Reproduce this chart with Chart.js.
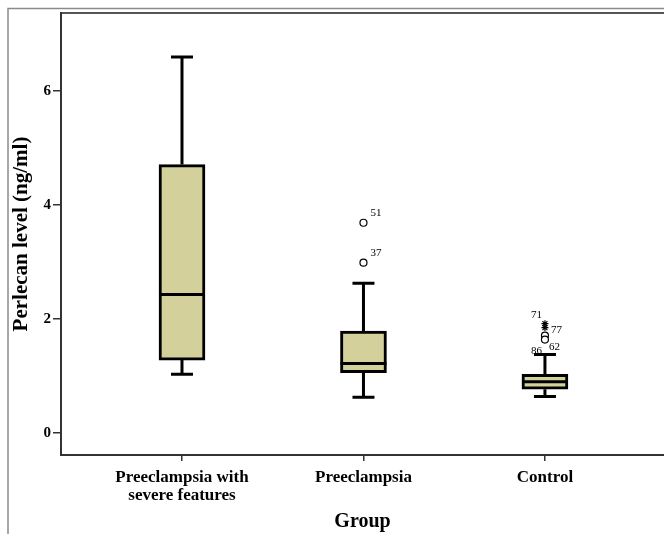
<!DOCTYPE html>
<html>
<head>
<meta charset="utf-8">
<script src="https://cdn.jsdelivr.net/npm/chart.js@4.4.0/dist/chart.umd.min.js"></script>
<style>
  html, body { margin: 0; padding: 0; background: #fff; overflow: hidden; }
  #wrap { width: 664px; height: 534px; }
  canvas { display: block; }
</style>
</head>
<body>
<div id="wrap"><canvas id="chart" width="664" height="534"></canvas></div>
<script>
// groups on the x axis
const groups = [["Preeclampsia with", "severe features"], "Preeclampsia", "Control"];
const groupPos = [1, 2, 3];

// box plot summaries (ng/ml)
const whiskerLow = [1.03, 0.63, 0.64];
const q1 = [1.28, 1.06, 0.77];
const median = [2.43, 1.22, 0.90];
const q3 = [4.71, 1.79, 1.03];
const whiskerHigh = [6.60, 2.63, 1.38];

// outliers (circle = outlier, star = extreme), with case numbers
const outlierGroup = [2, 2, 3, 3, 3, 3];
const outlierValue = [3.69, 2.99, 1.92, 1.85, 1.71, 1.64];
const outlierCase = ["51", "37", "71", "77", "62", "86"];
const outlierKind = ["circle", "circle", "star", "star", "circle", "circle"];

const yTicks = [0, 2, 4, 6];

// label placement next to each outlier, in px (style only)
const labelShift = [[7, -10], [7, -10], [-14, -9], [6, 2], [4, 12], [-14, 12]];

const serif = "'Liberation Serif', 'Times New Roman', serif";
Chart.defaults.font.family = serif;

const boxParts = {
    id: 'boxParts',
    beforeDraw(chart) {
        const ctx = chart.ctx, a = chart.chartArea;
        ctx.save();
        // outer figure frame
        ctx.strokeStyle = '#8a8a8a';
        ctx.lineWidth = 1.5;
        ctx.beginPath();
        ctx.moveTo(8, chart.height);
        ctx.lineTo(8, 8.5);
        ctx.lineTo(chart.width, 8.5);
        ctx.stroke();
        // top edge of plot frame
        ctx.strokeStyle = '#555';
        ctx.lineWidth = 2;
        ctx.beginPath();
        ctx.moveTo(a.left - 1, a.top);
        ctx.lineTo(a.right, a.top);
        ctx.stroke();
        ctx.restore();
    },
    beforeDatasetsDraw(chart) {
        const ctx = chart.ctx, xs = chart.scales.x, ys = chart.scales.y;
        ctx.save();
        ctx.strokeStyle = '#000';
        ctx.lineWidth = 3;
        groupPos.forEach((g, i) => {
            const x = xs.getPixelForValue(g);
            const lo = ys.getPixelForValue(whiskerLow[i]);
            const hi = ys.getPixelForValue(whiskerHigh[i]);
            const b = ys.getPixelForValue(q1[i]);
            const t = ys.getPixelForValue(q3[i]);
            ctx.beginPath();
            ctx.moveTo(x, t); ctx.lineTo(x, hi);
            ctx.moveTo(x, b); ctx.lineTo(x, lo);
            ctx.moveTo(x - 11, hi); ctx.lineTo(x + 11, hi);
            ctx.moveTo(x - 11, lo); ctx.lineTo(x + 11, lo);
            ctx.stroke();
        });
        ctx.restore();
    },
    afterDatasetsDraw(chart) {
        const ctx = chart.ctx, xs = chart.scales.x, ys = chart.scales.y;
        const bars = chart.getDatasetMeta(0).data;
        ctx.save();
        ctx.strokeStyle = '#000';
        ctx.lineWidth = 3;
        groupPos.forEach((g, i) => {
            const x = xs.getPixelForValue(g);
            const w = bars[i].width / 2;
            const m = ys.getPixelForValue(median[i]);
            ctx.beginPath();
            ctx.moveTo(x - w, m); ctx.lineTo(x + w, m);
            ctx.stroke();
        });
        ctx.fillStyle = '#000';
        ctx.font = '11px ' + serif;
        ctx.textAlign = 'left';
        ctx.textBaseline = 'middle';
        outlierCase.forEach((c, i) => {
            const x = xs.getPixelForValue(outlierGroup[i]);
            const y = ys.getPixelForValue(outlierValue[i]);
            ctx.fillText(c, x + labelShift[i][0], y + labelShift[i][1]);
        });
        ctx.restore();
    }
};

new Chart(document.getElementById('chart'), {
    type: 'bar',
    data: {
        datasets: [
            {
                label: 'box',
                data: groupPos.map((g, i) => ({x: g, y: [q1[i], q3[i]]})),
                backgroundColor: '#d4d09b',
                borderColor: '#000',
                borderWidth: 3,
                borderSkipped: false,
                barThickness: 46
            },
            {
                type: 'scatter',
                label: 'outliers',
                data: outlierValue.map((v, i) => ({x: outlierGroup[i], y: v})),
                pointStyle: outlierKind,
                pointRadius: 3.5,
                backgroundColor: '#fff',
                borderColor: '#000',
                borderWidth: 1.2
            }
        ]
    },
    options: {
        responsive: false,
        animation: false,
        layout: {autoPadding: false, padding: {top: 13, right: 0, left: 0, bottom: 0}},
        plugins: {legend: {display: false}, tooltip: {enabled: false}},
        scales: {
            x: {
                type: 'linear',
                min: 0.3333,
                max: 3.656,
                offset: false,
                afterBuildTicks: s => { s.ticks = groupPos.map(v => ({value: v})); },
                afterFit: s => { s.height = 79; s.paddingRight = 0; s.paddingLeft = 0; },
                ticks: {
                    callback: v => groups[groupPos.indexOf(v)],
                    color: '#000',
                    font: {family: serif, weight: 'bold', size: 17, lineHeight: 1.1},
                    padding: 7,
                    maxRotation: 0,
                    autoSkip: false
                },
                grid: {drawOnChartArea: false, offset: false, tickLength: 6, color: '#333', lineWidth: 1.5},
                border: {display: true, color: '#333', width: 2},
                title: {
                    display: true, text: 'Group', color: '#000',
                    font: {family: serif, weight: 'bold', size: 20},
                    padding: {top: 0, bottom: 0}
                }
            },
            y: {
                min: -0.385,
                max: 7.37,
                afterBuildTicks: s => { s.ticks = yTicks.map(v => ({value: v})); },
                afterFit: s => { s.width = 61; },
                ticks: {
                    color: '#000',
                    font: {family: serif, weight: 'bold', size: 15},
                    padding: 2
                },
                grid: {drawOnChartArea: false, tickLength: 8, color: '#333', lineWidth: 1.5},
                border: {display: true, color: '#333', width: 2},
                title: {
                    display: true, text: 'Perlecan level (ng/ml)', color: '#000',
                    font: {family: serif, weight: 'bold', size: 21},
                    padding: {top: 9, bottom: 0}
                }
            }
        }
    },
    plugins: [boxParts]
});
</script>
</body>
</html>
